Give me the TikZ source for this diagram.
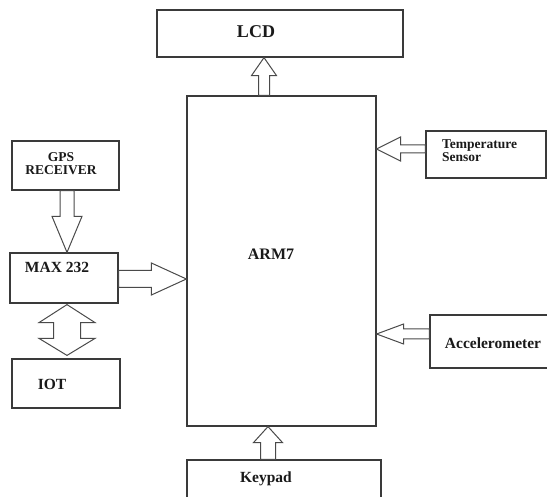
\documentclass[tikz,border=0pt]{standalone}
\usepackage{fontspec}
\setmainfont{Liberation Serif}
\usetikzlibrary{calc}
\definecolor{boxc}{HTML}{3A3A3A}
\definecolor{arrc}{HTML}{4A4A4A}
\definecolor{txtc}{HTML}{1A1A1A}
\tikzset{
  box/.style={draw=boxc, line width=1.2pt, fill=white, inner sep=0pt},
  lbl/.style={font=\bfseries\fontsize{15.5}{16}\selectfont, text=txtc, inner sep=0pt},
  smalllbl/.style={font=\bfseries\fontsize{13.5}{12.8}\selectfont, text=txtc, inner sep=0pt},
  barrow/.style={draw=arrc, line width=1pt, fill=white, line join=miter},
}
% single block arrow: tail coord, tip coord, shaft half width, head half width, head length
\newcommand{\blockarr}[5]{%
  \coordinate (ba-h) at ($(#2)!#5!(#1)$);
  \draw[barrow] ($(#1)!#3!90:(#2)$) -- ($(ba-h)!#3!90:(#2)$) -- ($(ba-h)!#4!90:(#2)$) -- (#2)
    -- ($(ba-h)!#4!-90:(#2)$) -- ($(ba-h)!#3!-90:(#2)$) -- ($(#1)!#3!-90:(#2)$) -- cycle;
}
% double block arrow: end A, end B, shaft half, head half, head length at A, head length at B
\newcommand{\dblarr}[6]{%
  \coordinate (da-a) at ($(#1)!#5!(#2)$);
  \coordinate (da-b) at ($(#2)!#6!(#1)$);
  \draw[barrow] (#1) -- ($(da-a)!#4!90:(#2)$) -- ($(da-a)!#3!90:(#2)$) -- ($(da-b)!#3!90:(#2)$)
    -- ($(da-b)!#4!90:(#2)$) -- (#2) -- ($(da-b)!#4!-90:(#2)$) -- ($(da-b)!#3!-90:(#2)$)
    -- ($(da-a)!#3!-90:(#2)$) -- ($(da-a)!#4!-90:(#2)$) -- cycle;
}
\begin{document}
\begin{tikzpicture}[x=1pt, y=-1pt]
\useasboundingbox (0,0) rectangle (547,497);
% boxes
\node[box, minimum width=246pt, minimum height=47pt] (lcd) at (280,33.5) {};
\node[box, minimum width=189pt, minimum height=330pt] (arm) at (281.5,261) {};
\node[box, minimum width=194pt, minimum height=39pt] (keypad) at (284,479.5) {};
\node[box, minimum width=107pt, minimum height=49pt] (gps) at (65.5,165.5) {};
\node[box, minimum width=108pt, minimum height=50pt] (max) at (64,278) {};
\node[box, minimum width=108pt, minimum height=49pt] (iot) at (66,383.5) {};
\node[box, minimum width=120pt, minimum height=47pt] (temp) at (486,154.5) {};
\node[box, minimum width=119pt, minimum height=53pt] (accel) at (489.5,341.5) {};
% texts
\node[lbl, font=\bfseries\fontsize{18}{19}\selectfont] (lcdt) at (256,32) {LCD};
\node[lbl, font=\bfseries\fontsize{16}{17}\selectfont] (armt) at (271,254) {ARM7};
\node[lbl] (keypadt) at (266,479) {Keypad};
\node[smalllbl, align=center] (gpst) at (61,163.5) {GPS\\RECEIVER};
\node[lbl] (maxt) at (57,267) {MAX 232};
\node[lbl] (iott) at (52,384) {IOT};
\node[smalllbl, align=left, anchor=west] (tempt) at (442,151) {Temperature\\Sensor};
\node[lbl] (accelt) at (493,343) {Accelerometer};
% connectors (block arrows)
\coordinate (a1) at ($(arm.north)+(-17.5,0)$);
\coordinate (b1) at ($(lcd.south)+(-16,0)$);
\blockarr{a1}{b1}{5.5pt}{12.5pt}{18pt}
\coordinate (a2) at ($(keypad.north)+(-16,0)$);
\coordinate (b2) at ($(arm.south)+(-13.5,0)$);
\blockarr{a2}{b2}{7.5pt}{14.5pt}{16pt}
\coordinate (a3) at ($(gps.south)+(1.5,0)$);
\coordinate (b3) at ($(max.north)+(3,0)$);
\blockarr{a3}{b3}{7pt}{15pt}{36pt}
\coordinate (a4) at ($(max.east)+(0,1)$);
\coordinate (b4) at (arm.west |- a4);
\blockarr{a4}{b4}{8.5pt}{16pt}{35pt}
\coordinate (a5) at ($(max.south)+(3,1)$);
\coordinate (b5) at ($(iot.north)+(1,-3)$);
\dblarr{a5}{b5}{13.5pt}{28pt}{18pt}{17pt}
\coordinate (a6) at ($(temp.west)+(0,-5.5)$);
\coordinate (b6) at (arm.east |- a6);
\blockarr{a6}{b6}{4pt}{12pt}{24pt}
\coordinate (a7) at ($(accel.west)+(0,-7.5)$);
\coordinate (b7) at (arm.east |- a7);
\blockarr{a7}{b7}{5pt}{10pt}{27pt}
\end{tikzpicture}
\end{document}
